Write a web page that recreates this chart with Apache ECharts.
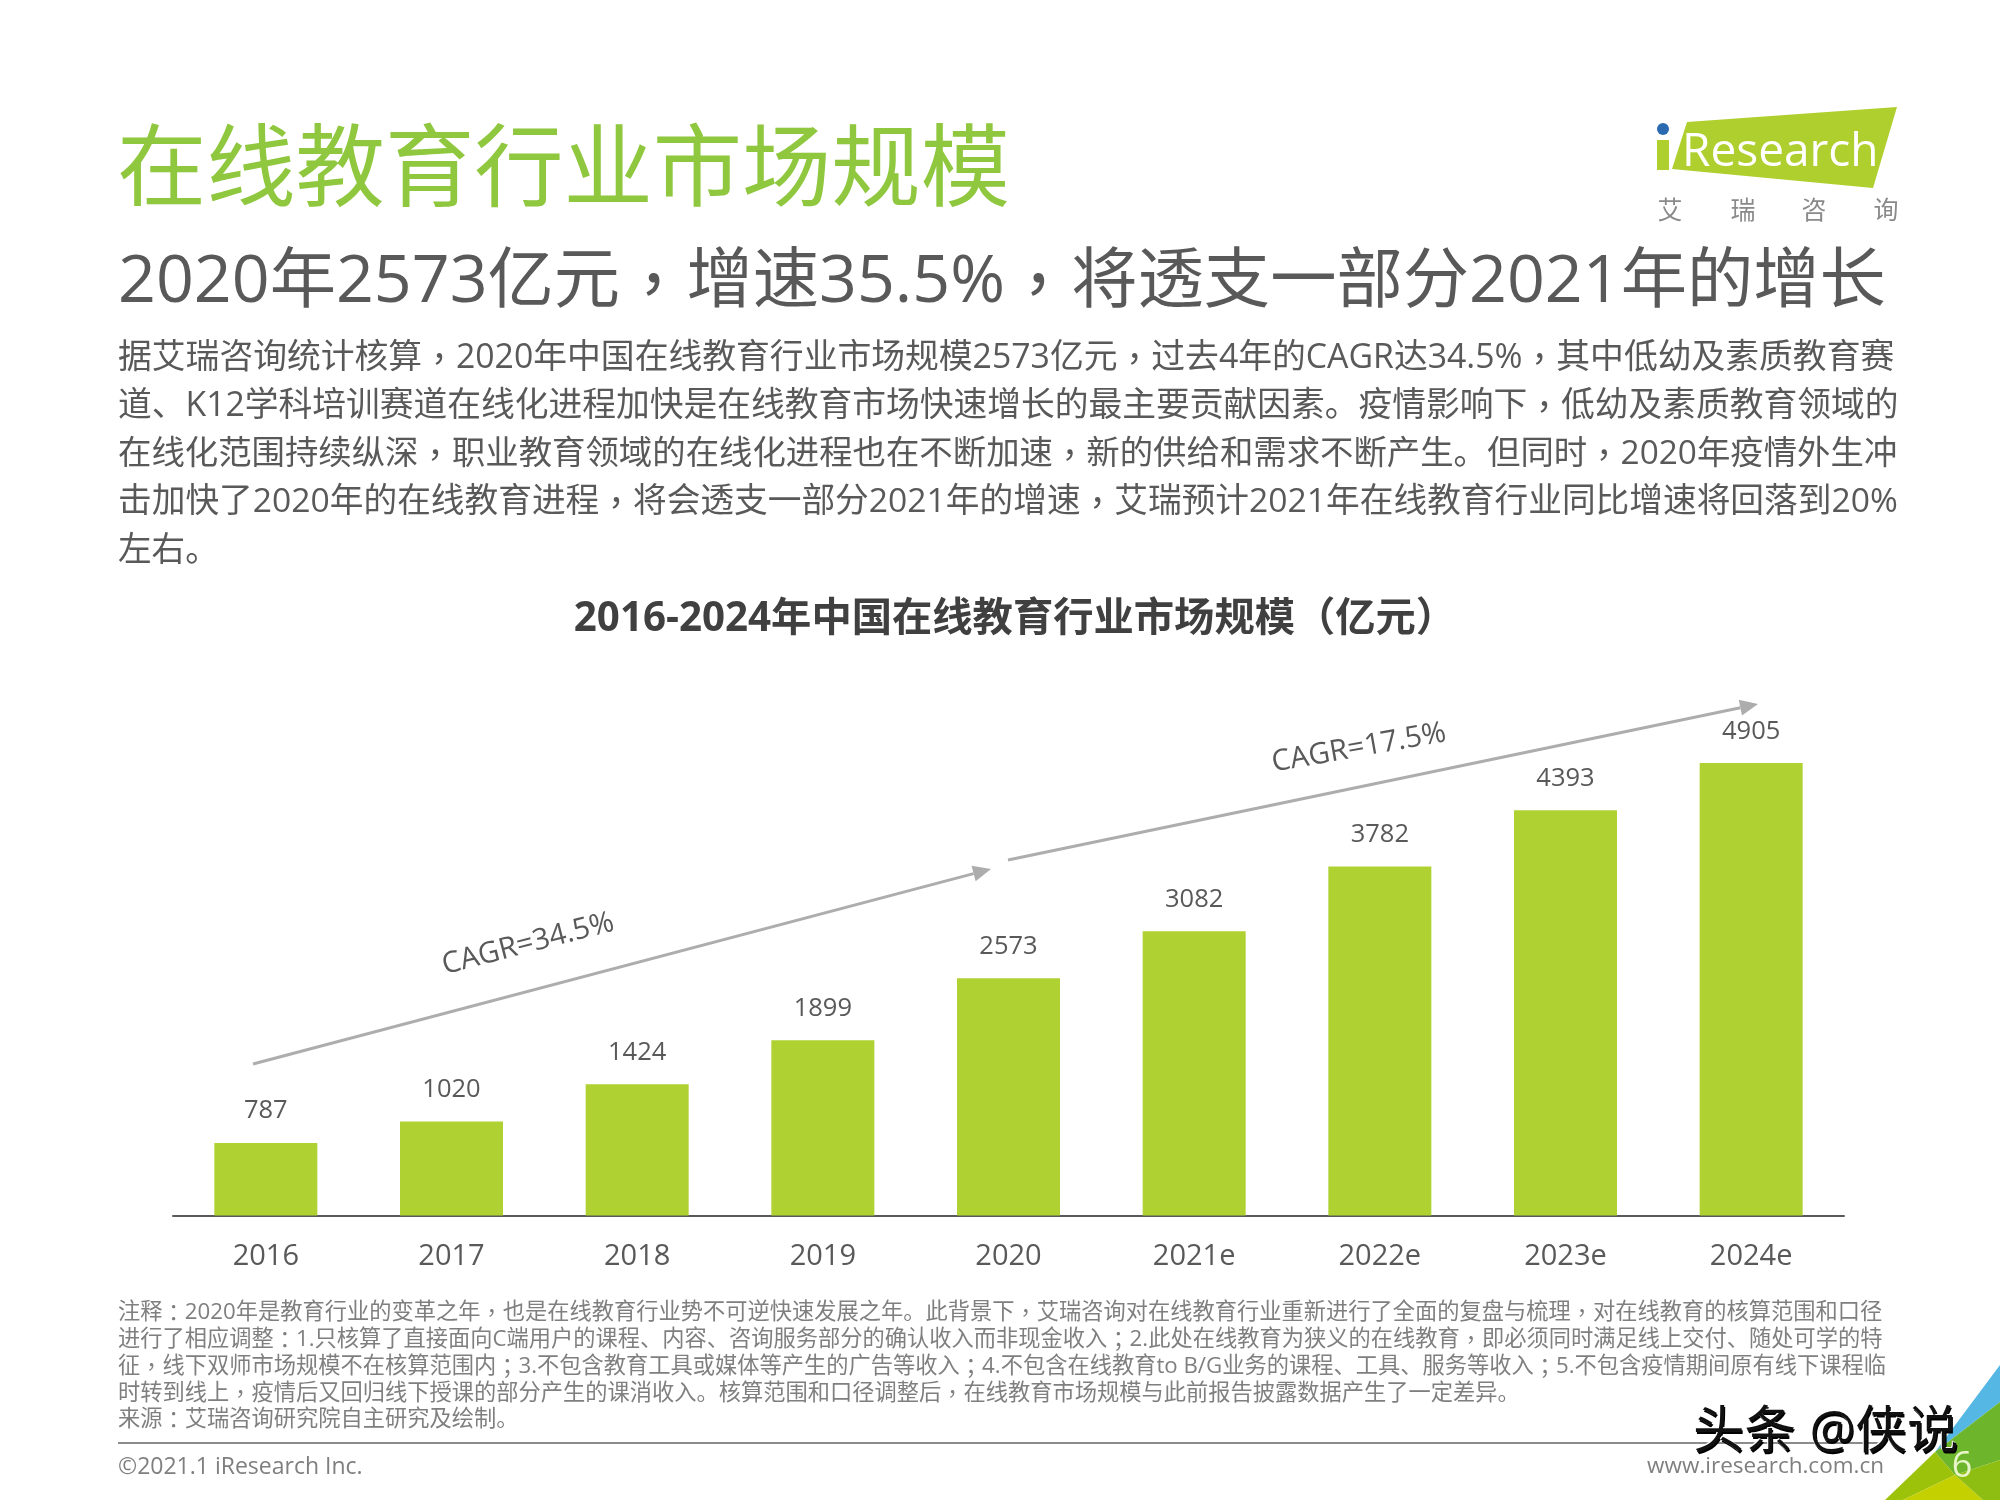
<!DOCTYPE html>
<html><head><meta charset="utf-8">
<style>html,body{margin:0;padding:0;background:#fff}#c{width:2000px;height:1500px}</style>
<script src="https://cdn.jsdelivr.net/npm/echarts@6/dist/echarts.min.js"></script>
</head><body><div id="c"></div>
<script>
const categories = ['2016','2017','2018','2019','2020','2021e','2022e','2023e','2024e'];
const values = [787,1020,1424,1899,2573,3082,3782,4393,4905];
const titleText = '在线教育行业市场规模';
const subtitleText = '2020年2573亿元，增速35.5%，将透支一部分2021年的增长';
const chartTitle = '2016-2024年中国在线教育行业市场规模（亿元）';
const bodyLines = [
 '据艾瑞咨询统计核算，2020年中国在线教育行业市场规模2573亿元，过去4年的CAGR达34.5%，其中低幼及素质教育赛',
 '道、K12学科培训赛道在线化进程加快是在线教育市场快速增长的最主要贡献因素。疫情影响下，低幼及素质教育领域的',
 '在线化范围持续纵深，职业教育领域的在线化进程也在不断加速，新的供给和需求不断产生。但同时，2020年疫情外生冲',
 '击加快了2020年的在线教育进程，将会透支一部分2021年的增速，艾瑞预计2021年在线教育行业同比增速将回落到20%',
 '左右。'];
const noteLines = [
 '注释：2020年是教育行业的变革之年，也是在线教育行业势不可逆快速发展之年。此背景下，艾瑞咨询对在线教育行业重新进行了全面的复盘与梳理，对在线教育的核算范围和口径',
 '进行了相应调整：1.只核算了直接面向C端用户的课程、内容、咨询服务部分的确认收入而非现金收入；2.此处在线教育为狭义的在线教育，即必须同时满足线上交付、随处可学的特',
 '征，线下双师市场规模不在核算范围内；3.不包含教育工具或媒体等产生的广告等收入；4.不包含在线教育to B/G业务的课程、工具、服务等收入；5.不包含疫情期间原有线下课程临',
 '时转到线上，疫情后又回归线下授课的部分产生的课消收入。核算范围和口径调整后，在线教育市场规模与此前报告披露数据产生了一定差异。',
 '来源：艾瑞咨询研究院自主研究及绘制。'];
const FF = '"Open Sans","Noto Sans CJK SC",sans-serif';
const FT = '"Noto Sans CJK TC",sans-serif';
const GREY = '#595959';
function txt(x,y,text,size,color,extra){
  const e=extra||{},w=e.bold?'bold ':'';
  const style={text:text.replace(/[，；：]/g,m=>'{p|'+m+'}'),fill:color,font:w+size+'px '+FF,
    textAlign:e.align||'left',textVerticalAlign:'middle',
    rich:{p:{font:w+size+'px '+FT,fill:color}}};
  return Object.assign({type:'text',x,y,silent:true,style},e.el||{});
}
function poly(points,fill,z){return {type:'polygon',shape:{points},style:{fill},silent:true,z:z||0};}
function arrow(x1,y1,x2,y2){
  const a=Math.atan2(y2-y1,x2-x1),L=18,W=8,bx=x2-L*Math.cos(a),by=y2-L*Math.sin(a);
  return [{type:'line',shape:{x1,y1,x2:bx,y2:by},style:{stroke:'#ADADAD',lineWidth:3},silent:true},
    poly([[x2,y2],[bx-W*Math.sin(a),by+W*Math.cos(a)],[bx+W*Math.sin(a),by-W*Math.cos(a)]],'#ADADAD')];
}
const g=[];
g.push(txt(117,173.5,titleText,89.3,'#8FC73E'));
g.push(txt(118,283,subtitleText,66.3,GREY));
const bodyY=[358,406,454,502,551], bodySize=[33.8,33.75,33.4,33.7,33.6];
bodyLines.forEach((t,i)=>g.push(txt(118,bodyY[i],t,bodySize[i],GREY)));
g.push(txt(1015,620,chartTitle,40.3,'#404040',{bold:true,align:'center'}));
const noteY=[1313,1340,1367,1394,1420];
noteLines.forEach((t,i)=>g.push(txt(118,noteY[i],t,22.25,'#7F7F7F')));
g.push({type:'line',shape:{x1:118,y1:1443,x2:1885,y2:1443},style:{stroke:'#8C8C8C',lineWidth:2},silent:true});
g.push(txt(118,1467,'©2021.1 iResearch Inc.',23,'#7F7F7F'));
g.push(txt(1884,1467,'www.iresearch.com.cn',22.5,'#7F7F7F',{align:'right'}));
// annotations
g.push(...arrow(253,1064,991,869),...arrow(1008,860,1758,704));
g.push(txt(528,944,'CAGR=34.5%',29.5,GREY,{align:'center',el:{rotation:14.5*Math.PI/180}}));
g.push(txt(1359,748,'CAGR=17.5%',29.5,GREY,{align:'center',el:{rotation:10*Math.PI/180}}));
// logo
g.push(poly([[1687,122],[1897,107],[1873,188],[1672,169]],'#AFCF2E'));
g.push({type:'rect',shape:{x:1657,y:140,width:12,height:30},style:{fill:'#AFCF2E'},silent:true});
g.push({type:'circle',shape:{cx:1663,cy:129,r:6},style:{fill:'#2A6AB0'},silent:true});
g.push(txt(1682,153,'Research',46,'#FFFFFF'));
['艾','瑞','咨','询'].forEach((c,i)=>g.push(txt([1670,1743,1814,1886][i],212,c,25,'#8A8A8A',{align:'center'})));
// corner
g.push(poly([[2000,1365],[1935,1452],[2000,1402]],'#55B7E4'));
g.push(poly([[1935,1452],[2000,1402],[2000,1460],[1955,1475]],'#6DB52B'));
g.push(poly([[1885,1500],[1935,1452],[1955,1475],[1903,1500]],'#9DC20A'));
g.push(poly([[1903,1500],[1955,1475],[1983,1500]],'#C4D000'));
g.push(poly([[1955,1475],[2000,1460],[2000,1500],[1983,1500]],'#8FBE12'));
// watermark
const wm='头条 @侠说';
[[2,3,'#000'],[0,0,'#fff'],[1,1,'#111']].forEach((o,i)=>g.push({type:'text',x:1692+o[0],y:1432+o[1],z:5+i,silent:true,
  style:{text:wm,fill:o[2],font:'51.5px '+FF,textVerticalAlign:'middle'}}));
g.push(Object.assign(txt(1962,1467,'6',36,'#E8F5C8',{align:'center'}),{z:10}));

const chart=echarts.init(document.getElementById('c'),null,{renderer:'canvas'});
chart.setOption({
  animation:false,backgroundColor:'#fff',
  grid:{left:173,width:1671,top:662,height:553.5},
  xAxis:{type:'category',data:categories,axisTick:{show:false},
    axisLine:{lineStyle:{color:'#595959',width:2}},
    axisLabel:{color:GREY,fontSize:29,fontFamily:FF,margin:27}},
  yAxis:{type:'value',min:0,max:6000,show:false,splitLine:{show:false}},
  series:[{type:'bar',data:values,barWidth:103,itemStyle:{color:'#AFD132'},
    label:{show:true,position:'top',distance:19,color:GREY,fontSize:25.5,fontFamily:FF}}],
  graphic:{elements:g}
});
</script></body></html>
